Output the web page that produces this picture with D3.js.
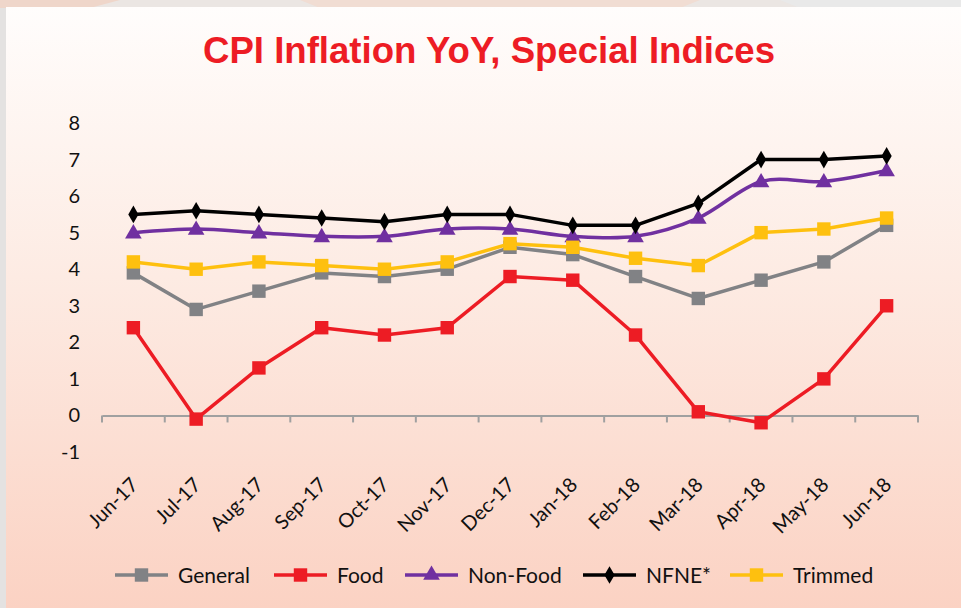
<!DOCTYPE html>
<html>
<head>
<meta charset="utf-8">
<script src="https://cdn.jsdelivr.net/npm/d3@7"></script>
<style>
  html, body { margin: 0; padding: 0; background: #e4e2e1; }
  svg { display: block; }
</style>
</head>
<body>
<script>
// chart data
var months = ["Jun-17", "Jul-17", "Aug-17", "Sep-17", "Oct-17", "Nov-17", "Dec-17",
              "Jan-18", "Feb-18", "Mar-18", "Apr-18", "May-18", "Jun-18"];
var general  = [3.9, 2.9, 3.4, 3.9, 3.8, 4.0, 4.6, 4.4, 3.8, 3.2, 3.7, 4.2, 5.2];
var food     = [2.4, -0.1, 1.3, 2.4, 2.2, 2.4, 3.8, 3.7, 2.2, 0.1, -0.2, 1.0, 3.0];
var nonFood  = [5.0, 5.1, 5.0, 4.9, 4.9, 5.1, 5.1, 4.9, 4.9, 5.4, 6.4, 6.4, 6.7];
var nfne     = [5.5, 5.6, 5.5, 5.4, 5.3, 5.5, 5.5, 5.2, 5.2, 5.8, 7.0, 7.0, 7.1];
var trimmed  = [4.2, 4.0, 4.2, 4.1, 4.0, 4.2, 4.7, 4.6, 4.3, 4.1, 5.0, 5.1, 5.4];
var yTicks   = [-1, 0, 1, 2, 3, 4, 5, 6, 7, 8];

var seriesNames = ["General", "Food", "Non-Food", "NFNE*", "Trimmed"];
var seriesData = [general, food, nonFood, nfne, trimmed];

// how each series looks
var styles = [
  {color: "#818285", marker: "square",   smooth: false},
  {color: "#ed1c24", marker: "square",   smooth: false},
  {color: "#7030a0", marker: "triangle", smooth: true},
  {color: "#000000", marker: "diamond",  smooth: false},
  {color: "#fec00f", marker: "square",   smooth: false}
];

var W = 961, H = 608;

var svg = d3.select("body").append("svg")
    .attr("width", W)
    .attr("height", H);

// background panel with gradient
var defs = svg.append("defs");
var grad = defs.append("linearGradient")
    .attr("id", "bg")
    .attr("x1", 0).attr("y1", 0).attr("x2", 0).attr("y2", 1);
grad.append("stop").attr("offset", "0%").attr("stop-color", "#fffdfc");
grad.append("stop").attr("offset", "45%").attr("stop-color", "#fdebe3");
grad.append("stop").attr("offset", "100%").attr("stop-color", "#fbd2c3");

// top strip of the slide behind the panel
svg.append("rect").attr("x", 0).attr("y", 0).attr("width", W).attr("height", 8)
    .attr("fill", "#ebe6e3");
svg.append("polygon").attr("points", "0,0 120,0 90,8 0,8").attr("fill", "#efd6ca");
svg.append("polygon").attr("points", "300,0 700,0 680,8 320,8").attr("fill", "#f1ddd3");
svg.append("polygon").attr("points", "780,0 1000,0 1000,8 800,8").attr("fill", "#e9e9e9");

svg.append("rect")
    .attr("x", 6).attr("y", 7)
    .attr("width", W - 6).attr("height", H - 7)
    .attr("fill", "url(#bg)");

// title
svg.append("text")
    .attr("x", 489)
    .attr("y", 63)
    .attr("text-anchor", "middle")
    .attr("font-family", "'Liberation Sans Narrow', 'Arial Narrow', 'Liberation Sans', sans-serif")
    .attr("font-weight", "bold")
    .attr("font-size", "36px")
    .attr("fill", "#ed1c24")
    .attr("textLength", 572)
    .attr("lengthAdjust", "spacingAndGlyphs")
    .text("CPI Inflation YoY, Special Indices");

// scales
var x = d3.scaleBand()
    .domain(months)
    .range([102, 918]);

var y = d3.scaleLinear()
    .domain([-1, 8])
    .range([452, 123]);

var cx = function(i) { return x(months[i]) + x.bandwidth() / 2; };

// y tick labels (no axis line in the reference)
svg.append("g")
    .selectAll("text")
    .data(yTicks)
    .enter()
    .append("text")
    .attr("x", 80)
    .attr("y", function(d) { return y(d); })
    .attr("dy", "0.35em")
    .attr("text-anchor", "end")
    .attr("font-family", "Lato, 'Open Sans', sans-serif")
    .attr("font-size", "20px")
    .attr("fill", "#111")
    .text(function(d) { return d; });

// x axis at zero
var xAxis = d3.axisBottom(x).tickSize(0).tickFormat("");
var gx = svg.append("g")
    .attr("transform", "translate(0," + y(0) + ")")
    .call(xAxis);
gx.select(".domain").attr("stroke", "#a0a0a0").attr("stroke-width", 2);

// category boundary ticks
var bounds = months.map(function(m) { return x(m); }).concat([x.range()[1]]);
gx.selectAll(".bound")
    .data(bounds)
    .enter()
    .append("line")
    .attr("class", "bound")
    .attr("x1", function(d) { return d; })
    .attr("x2", function(d) { return d; })
    .attr("y1", 0)
    .attr("y2", 7)
    .attr("stroke", "#a0a0a0")
    .attr("stroke-width", 2);

// rotated month labels
svg.append("g")
    .selectAll("text")
    .data(months)
    .enter()
    .append("text")
    .attr("transform", function(d, i) {
      return "translate(" + (cx(i) + 6) + "," + 486 + ") rotate(-45)";
    })
    .attr("text-anchor", "end")
    .attr("font-family", "Lato, 'Open Sans', sans-serif")
    .attr("font-size", "20px")
    .attr("fill", "#111")
    .text(function(d) { return d; });

// marker shapes
function markerPath(type) {
  if (type == "square") return d3.symbol().type(d3.symbolSquare).size(180)();
  if (type == "triangle") return d3.symbol().type(d3.symbolTriangle).size(120)();
  return d3.symbol().type(d3.symbolDiamond).size(90)();
}

// draw lines and markers
seriesData.forEach(function(values, s) {
  var st = styles[s];
  var line = d3.line()
      .x(function(d, i) { return cx(i); })
      .y(function(d) { return y(d); })
      .curve(st.smooth ? d3.curveCardinal.tension(0) : d3.curveLinear);

  var g = svg.append("g");
  g.append("path")
      .datum(values)
      .attr("d", line)
      .attr("fill", "none")
      .attr("stroke", st.color)
      .attr("stroke-width", 3.5)
      .attr("stroke-linejoin", "round");

  g.selectAll("path.marker")
      .data(values)
      .enter()
      .append("path")
      .attr("class", "marker")
      .attr("d", markerPath(st.marker))
      .attr("transform", function(d, i) {
        var dy = st.marker == "triangle" ? 1 : 0;
        return "translate(" + cx(i) + "," + (y(d) + dy) + ")";
      })
      .attr("fill", st.color);
});

// legend
var legendX = [115, 274, 405, 583, 730];
var legend = svg.append("g")
    .selectAll("g")
    .data(seriesNames)
    .enter()
    .append("g")
    .attr("transform", function(d, i) { return "translate(" + legendX[i] + ",575)"; });

legend.append("line")
    .attr("x1", 0).attr("x2", 53)
    .attr("y1", 0).attr("y2", 0)
    .attr("stroke", function(d, i) { return styles[i].color; })
    .attr("stroke-width", 3.5);

legend.append("path")
    .attr("d", function(d, i) { return markerPath(styles[i].marker); })
    .attr("transform", "translate(26.5,0)")
    .attr("fill", function(d, i) { return styles[i].color; });

legend.append("text")
    .attr("x", 63)
    .attr("y", 0)
    .attr("dy", "0.36em")
    .attr("font-family", "Lato, 'Open Sans', sans-serif")
    .attr("font-size", "21px")
    .attr("fill", "#111")
    .text(function(d) { return d; });
</script>
</body>
</html>
